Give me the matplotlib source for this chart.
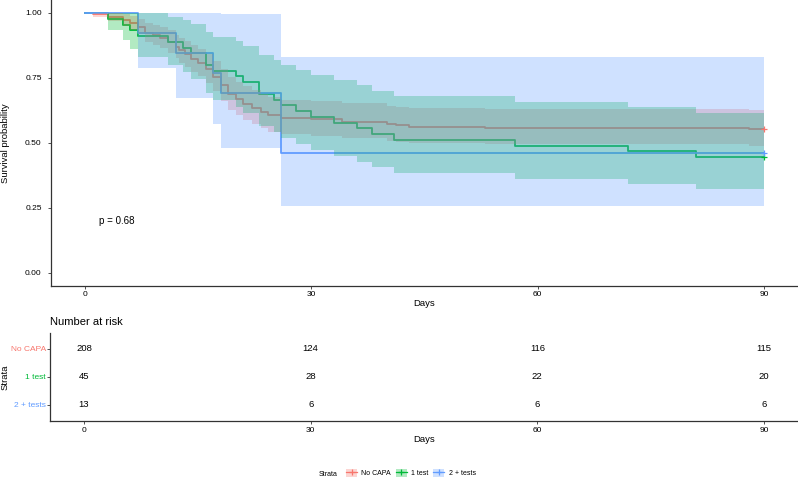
import matplotlib
matplotlib.use('Agg')
import matplotlib.pyplot as plt
from matplotlib.patches import Patch
from matplotlib.lines import Line2D

plt.rcParams['font.family'] = ['Liberation Sans', 'DejaVu Sans']

red = '#F8766D'
green = '#00BA38'
blue = '#619CFF'

strata = ['No CAPA', '1 test', '2 + tests']

# No CAPA
t_nocapa = [0, 1, 3, 5, 6, 7, 8, 9, 10, 11, 12, 12.5, 13.2, 14, 15, 16, 17, 18, 19, 20, 21,
            22.2, 23.3, 24.2, 26, 30, 34, 40, 41.2, 43, 53, 88, 90]
s_nocapa = [1.0, .9952, .9856, .9712, .9615, .9471, .9231, .9135, .9038, .8894, .8702, .8558,
            .8413, .8221, .8077, .7837, .7548, .7212, .6875, .6683, .6490, .6346, .6202, .6058,
            .5962, .5913, .5817, .5721, .5673, .5625, .5577, .5529, .5529]
lo_nocapa = [1.0, .9858, .9695, .9487, .9358, .9172, .8876, .8760, .8647, .8478, .8257, .8093,
             .7931, .7718, .7559, .7296, .6986, .6627, .6273, .6073, .5873, .5724, .5576, .5429,
             .5331, .5282, .5184, .5087, .5038, .4990, .4941, .4893, .4893]
hi_nocapa = [1.0, 1.0, 1.0, .9942, .9880, .9780, .9600, .9525, .9448, .9331, .9171, .9049,
             .8925, .8758, .8631, .8417, .8156, .7848, .7535, .7354, .7173, .7036, .6898, .6760,
             .6667, .6621, .6528, .6435, .6388, .6341, .6294, .6248, .6248]

# 1 test
t_1test = [0, 3, 5, 6, 7, 11, 13, 14, 16, 17, 20, 21, 23, 25, 26, 28, 30, 33, 36, 38, 41, 57, 72, 81, 90]
s_1test = [1.0, .9778, .9556, .9333, .9111, .8889, .8667, .8444, .8, .7778, .7556, .7333, .6889,
           .6667, .6444, .6222, .6, .5778, .5556, .5333, .5111, .4889, .4667, .4444, .4444]
lo_1test = [1.0, .9357, .8972, .8632, .8316, .8016, .7728, .7449, .6913, .6653, .6399, .6148,
            .5661, .5422, .5187, .4955, .4727, .4501, .4278, .4058, .3841, .3626, .3415, .3206, .3206]
hi_1test = [1.0, 1.0, 1.0, 1.0, .9982, .9857, .9720, .9572, .9258, .9093, .8922, .8746, .8384,
            .8197, .8006, .7813, .7616, .7418, .7215, .7010, .6802, .6591, .6378, .6161, .6161]

# 2 + tests
t_2tests = [0, 7, 12, 17, 18, 26, 90]
s_2tests = [1.0, .9231, .8462, .7692, .6923, .4615, .4615]
lo_2tests = [1.0, .7890, .6711, .5711, .4818, .2566, .2566]
hi_2tests = [1.0, 1.0, 1.0, 1.0, .9947, .8302, .8302]

risk_times = [0, 30, 60, 90]
risk_nocapa = [208, 124, 116, 115]
risk_1test = [45, 28, 22, 20]
risk_2tests = [13, 6, 6, 6]

curves = [
    (t_nocapa, s_nocapa, lo_nocapa, hi_nocapa, red),
    (t_1test, s_1test, lo_1test, hi_1test, green),
    (t_2tests, s_2tests, lo_2tests, hi_2tests, blue),
]

W, H = 798, 480
fig = plt.figure(figsize=(W / 100, H / 100), dpi=100)

def px_axes(x0, y0, x1, y1):
    return fig.add_axes([x0 / W, 1 - y1 / H, (x1 - x0) / W, (y1 - y0) / H])

def style(ax):
    for s in ['top', 'right']:
        ax.spines[s].set_visible(False)
    for s in ['left', 'bottom']:
        ax.spines[s].set_color('#333333')
        ax.spines[s].set_linewidth(0.9)
    ax.tick_params(length=2.2, width=0.6, color='#333333', labelsize=6, labelcolor='black')
    ax.set_xlim(-4.5, 94.5)
    ax.set_xticks(risk_times)

# survival curves
ax = px_axes(51, 0, 798, 285.7)
style(ax)
for t, s, lo, hi, c in curves:
    ax.step(t, s, where='post', color=c, lw=1.3, zorder=2)
for t, s, lo, hi, c in curves:
    ax.fill_between(t, lo, hi, step='post', color=c, alpha=0.3, lw=0, zorder=3)
for t, s, lo, hi, c in curves:
    ax.plot(t[-1], s[-1], marker='+', color=c, ms=5, mew=0.9, zorder=4)
ax.set_ylim(-0.05, 1.05)
ax.set_yticks([0, 0.25, 0.5, 0.75, 1.0])
ax.set_yticklabels(['0.00', '0.25', '0.50', '0.75', '1.00'])
ax.tick_params(axis='y', pad=4.5)
ax.tick_params(axis='x', pad=1.8)
ax.text(1.8, 0.2, 'p = 0.68', fontsize=7, ha='left', va='center')
fig.text(6 / W, 1 - 143 / H, 'Survival probability', rotation=90, ha='center', va='center', fontsize=6.8)
fig.text(424.5 / W, 1 - 303 / H, 'Days', ha='center', va='center', fontsize=6.8)

# risk table
rax = px_axes(50, 332.7, 798, 421)
style(rax)
rax.set_ylim(0.43, 3.57)
rows = [risk_nocapa, risk_1test, risk_2tests]
for i, vals in enumerate(rows):
    y = 3 - i
    for x, v in zip(risk_times, vals):
        rax.text(x, y, str(v), ha='center', va='center', fontsize=6.8)
rax.set_yticks([3, 2, 1])
rax.set_yticklabels(strata)
for lab, c in zip(rax.get_yticklabels(), [red, green, blue]):
    lab.set_color(c)
rax.tick_params(axis='y', pad=0.8)
rax.tick_params(axis='x', pad=1.8)
fig.text(50 / W, 1 - 321.7 / H, 'Number at risk', ha='left', va='center', fontsize=8)
fig.text(5 / W, 1 - 377 / H, 'Strata', rotation=90, ha='center', va='center', fontsize=6.8)
fig.text(424.5 / W, 1 - 439 / H, 'Days', ha='center', va='center', fontsize=6.8)

# legend
handles = [(Patch(facecolor=c, alpha=0.3, edgecolor='none'),
            Line2D([], [], color=c, lw=0.9, marker='+', ms=5, mew=0.9)) for c in [red, green, blue]]
fig.text(338 / W, 1 - 474.5 / H, 'Strata', ha='right', va='center', fontsize=5)
fig.legend(handles, strata, loc='center left', bbox_to_anchor=(346 / W, 1 - 473 / H),
           ncol=3, frameon=False, fontsize=5, handlelength=1.6, handleheight=1.5,
           handletextpad=0.6, columnspacing=0.7, borderpad=0, borderaxespad=0)

fig.savefig('out.png', dpi=100)
